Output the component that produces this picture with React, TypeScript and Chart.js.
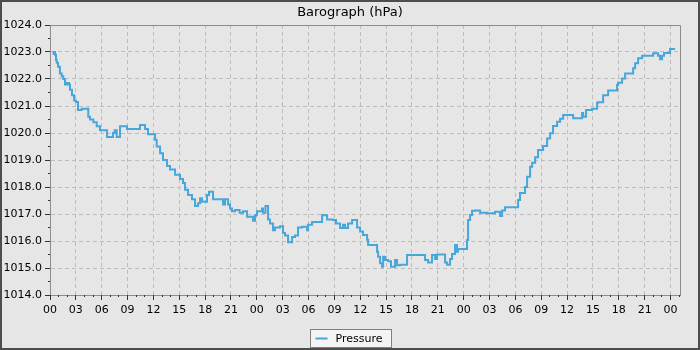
import React, { useEffect, useRef } from "react";
import { Chart, registerables } from "chart.js";

Chart.register(...registerables);

const TITLE = "Barograph (hPa)";
const SERIES_LABEL = "Pressure";

// hours since 00:00 of the first day
const hours: number[] = [
  0.41, 0.58, 0.7, 0.78, 0.93, 1.15, 1.36, 1.54, 1.74, 1.97, 2.2, 2.32, 2.55, 2.79, 3.02, 3.25, 3.68, 4.44,
  4.64, 5.03, 5.42, 5.8, 6.15, 6.62, 6.96, 7.31, 7.5, 7.74, 8.12, 8.47, 8.94, 9.05, 10.44, 10.68,
  11.03, 11.37, 11.84, 12.19, 12.38, 12.77, 13.11, 13.58, 13.93, 14.51, 15.09, 15.43, 15.67, 16.02,
  16.48, 16.83, 17.18, 17.41, 17.64, 18.22, 18.45, 18.92, 19.38, 20.08, 20.31, 20.66, 20.89, 21.12,
  21.47, 22.0, 22.4, 22.86, 22.98, 23.56, 23.79, 24.02, 24.6, 24.72, 25.0, 25.3, 25.53, 25.88,
  26.11, 26.69, 27.04, 27.27, 27.62, 28.09, 28.43, 28.78, 29.25, 29.83, 29.94, 30.41, 30.75, 31.57,
  31.68, 32.15, 32.26, 32.84, 33.19, 33.66, 34.0, 34.24, 34.58, 35.05, 35.63, 35.98, 36.32, 36.79,
  36.91, 37.14, 37.95, 38.07, 38.3, 38.53, 38.65, 38.88, 39.23, 39.57, 40.04, 40.27, 40.62, 41.43,
  42.36, 43.52, 43.87, 44.33, 44.68, 44.91, 45.49, 45.84, 46.07, 46.42, 46.65, 47.0, 47.23, 47.35,
  47.93, 48.39, 48.51, 48.74, 48.97, 49.32, 49.9, 50.72, 51.64, 52.22, 52.46, 52.8, 53.15, 54.31,
  54.54, 55.12, 55.36, 55.71, 55.94, 56.29, 56.63, 57.21, 57.68, 58.03, 58.37, 58.84, 59.19, 59.54,
  60.12, 60.7, 60.93, 61.74, 61.86, 62.2, 62.44, 62.9, 63.02, 63.48, 63.6, 64.18, 64.76, 64.99,
  65.8, 65.92, 66.38, 66.73, 67.08, 67.66, 67.89, 68.24, 68.71, 69.06, 69.98, 70.21, 70.56, 70.79,
  71.02, 71.25, 71.6, 71.95, 72.19, 72.53,
];

const pressure: number[] = [
  1022.9, 1023.0, 1022.9, 1022.7, 1022.6, 1022.45, 1022.2, 1022.1, 1022.0, 1021.8, 1021.85, 1021.8, 1021.6, 1021.4,
  1021.2, 1021.15, 1020.85, 1020.9, 1020.6, 1020.5, 1020.4, 1020.25, 1020.1, 1020.1, 1019.85,
  1019.85, 1020.0, 1020.1, 1019.85, 1020.25, 1020.25, 1020.15, 1020.15, 1020.3, 1020.3, 1020.15,
  1019.95, 1019.95, 1019.75, 1019.5, 1019.25, 1019.0, 1018.78, 1018.65, 1018.45, 1018.3, 1018.15,
  1017.9, 1017.7, 1017.55, 1017.3, 1017.4, 1017.58, 1017.45, 1017.7, 1017.82, 1017.55, 1017.55,
  1017.35, 1017.55, 1017.35, 1017.2, 1017.1, 1017.15, 1017.05, 1017.1, 1016.9, 1016.9, 1016.75,
  1016.95, 1017.1, 1017.2, 1017.05, 1017.3, 1016.8, 1016.65, 1016.4, 1016.5, 1016.55, 1016.3,
  1016.2, 1015.95, 1016.15, 1016.2, 1016.5, 1016.53, 1016.4, 1016.6, 1016.7, 1016.7, 1016.96,
  1016.95, 1016.8, 1016.8, 1016.78, 1016.65, 1016.48, 1016.6, 1016.48, 1016.65, 1016.78, 1016.5,
  1016.35, 1016.22, 1016.05, 1015.85, 1015.85, 1015.6, 1015.42, 1015.18, 1015.05, 1015.42,
  1015.3, 1015.25, 1015.05, 1015.3, 1015.1, 1015.12, 1015.48, 1015.48, 1015.3, 1015.2, 1015.48,
  1015.33, 1015.5, 1015.5, 1015.2, 1015.12, 1015.33, 1015.52, 1015.85, 1015.6, 1015.7, 1015.7,
  1016.04, 1016.78, 1016.96, 1017.12, 1017.13, 1017.05, 1017.03, 1017.08, 1016.93, 1017.13,
  1017.25, 1017.25, 1017.52, 1017.78, 1018.0, 1018.38, 1018.75, 1018.9, 1019.1, 1019.37, 1019.52,
  1019.8, 1019.99, 1020.26, 1020.42, 1020.53, 1020.67, 1020.67, 1020.55, 1020.55, 1020.74, 1020.6,
  1020.85, 1020.85, 1020.9, 1020.9, 1021.12, 1021.14, 1021.4, 1021.57, 1021.57, 1021.78, 1021.86,
  1022.02, 1022.2, 1022.2, 1022.4, 1022.58, 1022.77, 1022.86, 1022.86, 1022.95, 1022.95, 1022.86,
  1022.73, 1022.86, 1022.96, 1022.96, 1023.11, 1023.11,
];

const X_MIN = 0;
const X_MAX = 73.1;
const X_MAJOR = 3;
const X_MINOR = 1;
const Y_MIN = 1014;
const Y_MAX = 1024;
const Y_MAJOR = 1;
const Y_MINOR = 0.5;

const LINE_COLOR = "#47a6da";
const BG = "#e6e6e6";
const FONT = "DejaVu Sans";

const align = (p: number) => Math.round(p - 0.5) + 0.5;

const framePlugin = {
  id: "frame",
  beforeDraw(chart: any) {
    const { ctx, width, height } = chart;
    ctx.save();
    ctx.fillStyle = BG;
    ctx.fillRect(0, 0, width, height);
    ctx.restore();
  },
  afterDraw(chart: any) {
    const { ctx, chartArea: a, scales, width, height } = chart;
    const xs = scales.x;
    const ys = scales.y;
    ctx.save();
    // plot box top & right edges
    ctx.strokeStyle = "#8c8c8c";
    ctx.lineWidth = 1;
    ctx.beginPath();
    ctx.moveTo(align(a.left), align(a.top));
    ctx.lineTo(align(a.right), align(a.top));
    ctx.lineTo(align(a.right), align(a.bottom));
    ctx.stroke();

    // tick marks
    ctx.strokeStyle = "#333333";
    ctx.beginPath();
    for (let i = 0; X_MIN + i * X_MINOR <= X_MAX + 1e-9; i++) {
      const v = X_MIN + i * X_MINOR;
      const major = Math.abs(v / X_MAJOR - Math.round(v / X_MAJOR)) < 1e-6;
      const px = align(xs.getPixelForValue(v));
      const y0 = Math.round(a.bottom);
      ctx.moveTo(px, y0);
      ctx.lineTo(px, y0 + (major ? 5 : 2));
    }
    for (let i = 0; Y_MIN + i * Y_MINOR <= Y_MAX + 1e-9; i++) {
      const v = Y_MIN + i * Y_MINOR;
      const major = Math.abs(v / Y_MAJOR - Math.round(v / Y_MAJOR)) < 1e-6;
      const py = align(ys.getPixelForValue(v));
      const x0 = Math.round(a.left);
      ctx.moveTo(x0, py);
      ctx.lineTo(x0 - (major ? 5 : 2), py);
    }
    ctx.stroke();

    // legend
    const label = chart.data.datasets[0].label;
    ctx.font = `11px "${FONT}"`;
    const tw = ctx.measureText(label).width;
    const boxW = Math.round(tw + 34);
    const boxH = 18;
    const bx = Math.round(width / 2 - boxW / 2) + 0.5;
    const by = height - 21 + 0.5;
    ctx.fillStyle = "#f4f4f4";
    ctx.fillRect(bx, by, boxW, boxH);
    ctx.strokeStyle = "#808080";
    ctx.strokeRect(bx, by, boxW, boxH);
    ctx.strokeStyle = LINE_COLOR;
    ctx.lineWidth = 2;
    ctx.beginPath();
    ctx.moveTo(bx + 5, by + 9);
    ctx.lineTo(bx + 17, by + 9);
    ctx.stroke();
    ctx.fillStyle = "#000000";
    ctx.textBaseline = "middle";
    ctx.textAlign = "left";
    ctx.fillText(label, bx + 25, by + 9.5);

    // outer frame
    ctx.fillStyle = "#4d4d4d";
    ctx.fillRect(0, 0, width, 2);
    ctx.fillRect(0, 0, 2, height);
    ctx.fillRect(width - 2, 0, 2, height);
    ctx.fillRect(0, height - 2, width, 2);
    ctx.restore();
  },
};

export default function App() {
  const ref = useRef<HTMLCanvasElement | null>(null);

  useEffect(() => {
    document.body.style.margin = "0";
    const canvas = ref.current;
    if (!canvas) return;
    const points = hours.map((h, i) => ({ x: h, y: pressure[i] }));
    const chart = new Chart(canvas, {
      type: "line",
      data: {
        datasets: [
          {
            label: SERIES_LABEL,
            data: points,
            borderColor: LINE_COLOR,
            backgroundColor: LINE_COLOR,
            borderWidth: 2,
            pointRadius: 0,
            stepped: "after",
            fill: false,
            yAxisID: "y",
          },
        ],
      },
      options: {
        responsive: false,
        animation: false,
        devicePixelRatio: 1,
        layout: { padding: { left: 0, right: 0, top: 0, bottom: 0 } },
        font: { family: FONT },
        plugins: {
          legend: { display: false },
          tooltip: { enabled: false },
          title: {
            display: true,
            text: TITLE,
            color: "#000000",
            font: { family: FONT, size: 13, weight: "normal" },
            padding: { top: 4.5, bottom: 4.9 },
          },
        },
        scales: {
          x: {
            type: "linear",
            min: X_MIN,
            max: X_MAX,
            afterFit: (s: any) => {
              s.height = 55;
            },
            ticks: {
              stepSize: X_MAJOR,
              includeBounds: false,
              autoSkip: false,
              maxRotation: 0,
              padding: 9,
              color: "#000000",
              font: { family: FONT, size: 11 },
              callback: (v: any) => {
                const h = ((Math.round(Number(v)) % 24) + 24) % 24;
                return String(h).padStart(2, "0");
              },
            },
            grid: { color: "#bdbdbd", lineWidth: 1, drawTicks: false },
            border: { display: true, color: "#8c8c8c", width: 1, dash: [4, 3] },
          },
          y: {
            type: "linear",
            min: Y_MIN,
            max: Y_MAX,
            afterFit: (s: any) => {
              s.width = 50;
            },
            ticks: {
              stepSize: Y_MAJOR,
              includeBounds: false,
              padding: 8,
              color: "#000000",
              font: { family: FONT, size: 11 },
              callback: (v: any) => Number(v).toFixed(1),
            },
            grid: { color: "#bdbdbd", lineWidth: 1, drawTicks: false },
            border: { display: true, color: "#8c8c8c", width: 1, dash: [4, 3] },
          },
          yRight: {
            type: "linear",
            position: "right",
            min: Y_MIN,
            max: Y_MAX,
            display: true,
            afterFit: (s: any) => {
              s.width = 20;
            },
            ticks: { display: false },
            grid: { display: false, drawTicks: false },
            border: { display: false },
          },
        },
      } as any,
      plugins: [framePlugin],
    });
    return () => chart.destroy();
  }, []);

  return (
    <div style={{ width: 700, height: 350 }}>
      <canvas ref={ref} width={700} height={350} style={{ display: "block", width: 700, height: 350 }} />
    </div>
  );
}
